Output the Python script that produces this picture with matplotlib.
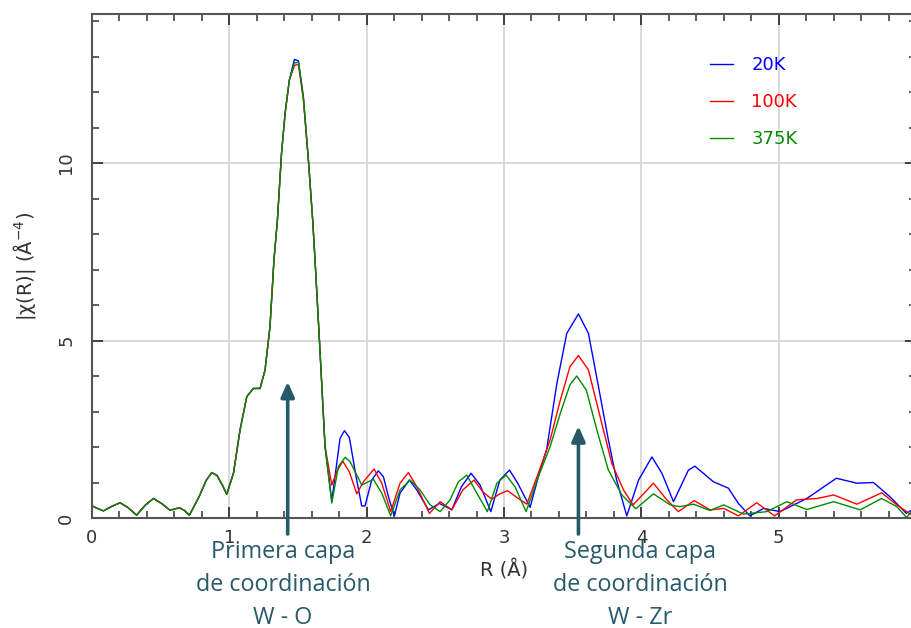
import numpy as np
import matplotlib
matplotlib.use('Agg')
import matplotlib.pyplot as plt
from matplotlib.ticker import MultipleLocator

# Shared part of the three curves (first shell, all temperatures overlap)
r_common = [0.0, 0.04, 0.083, 0.14, 0.204, 0.26, 0.325, 0.385, 0.447, 0.51,
            0.568, 0.6, 0.636, 0.67, 0.709, 0.78, 0.83, 0.872, 0.91, 0.95,
            0.981, 1.03, 1.078, 1.127, 1.175, 1.224, 1.26, 1.296, 1.325, 1.35,
            1.38, 1.406, 1.437]
chi_common = [0.34, 0.27, 0.2, 0.32, 0.43, 0.3, 0.08, 0.35, 0.55, 0.4,
              0.22, 0.25, 0.29, 0.22, 0.08, 0.6, 1.05, 1.28, 1.2, 0.92,
              0.67, 1.26, 2.48, 3.42, 3.65, 3.65, 4.17, 5.39, 7.27, 8.39,
              10.27, 11.4, 12.34]

# 20K
r_20 = [1.474, 1.503, 1.539, 1.576, 1.607, 1.624, 1.656, 1.697, 1.746, 1.806,
        1.838, 1.874, 1.923, 1.964, 1.988, 2.037, 2.085, 2.122, 2.165, 2.202,
        2.243, 2.311, 2.365, 2.45, 2.53, 2.62, 2.69, 2.76, 2.826, 2.904,
        2.97, 3.04, 3.1, 3.19, 3.263, 3.31, 3.385, 3.457, 3.542, 3.615,
        3.688, 3.76, 3.82, 3.894, 3.98, 4.077, 4.15, 4.234, 4.343, 4.39,
        4.525, 4.634, 4.707, 4.79, 4.89, 5.01, 5.205, 5.42, 5.57, 5.69,
        5.81, 5.93, 6.0]
chi_20 = [12.92, 12.88, 11.87, 10.08, 8.39, 7.27, 5.01, 2.01, 0.48, 2.24,
          2.46, 2.27, 1.16, 0.34, 0.34, 1.07, 1.33, 1.16, 0.51, 0.06,
          0.7, 1.07, 0.79, 0.23, 0.41, 0.23, 0.88, 1.26, 0.93, 0.18,
          1.07, 1.35, 0.98, 0.3, 1.35, 1.92, 3.79, 5.2, 5.75, 5.2,
          3.7, 2.2, 1.07, 0.06, 1.07, 1.72, 1.26, 0.46, 1.35, 1.46,
          1.02, 0.84, 0.41, 0.06, 0.27, 0.18, 0.55, 1.12, 0.98, 1.0,
          0.6, 0.13, 0.3]

# 100K
r_100 = [1.474, 1.503, 1.539, 1.576, 1.607, 1.624, 1.656, 1.697, 1.746, 1.782,
         1.826, 1.874, 1.928, 1.976, 2.054, 2.11, 2.175, 2.243, 2.304, 2.365,
         2.457, 2.535, 2.62, 2.7, 2.782, 2.845, 2.911, 2.97, 3.025, 3.093,
         3.166, 3.25, 3.336, 3.41, 3.48, 3.542, 3.615, 3.7, 3.785, 3.87,
         3.94, 4.088, 4.186, 4.27, 4.385, 4.5, 4.6, 4.707, 4.84, 4.97,
         5.13, 5.28, 5.4, 5.57, 5.75, 5.86, 5.97, 6.0]
chi_100 = [12.75, 12.78, 11.8, 10.05, 8.39, 7.27, 5.01, 2.01, 0.93, 1.3,
           1.6, 1.3, 0.68, 1.02, 1.38, 0.98, 0.18, 0.98, 1.28, 0.88,
           0.13, 0.46, 0.23, 0.79, 1.07, 0.74, 0.53, 0.68, 0.77, 0.58,
           0.39, 1.26, 2.2, 3.32, 4.26, 4.58, 4.17, 2.85, 1.54, 0.79,
           0.37, 0.98, 0.51, 0.18, 0.49, 0.23, 0.27, 0.06, 0.43, 0.06,
           0.51, 0.55, 0.65, 0.39, 0.71, 0.37, 0.08, 0.1]

# 375K
r_375 = [1.474, 1.503, 1.539, 1.576, 1.607, 1.624, 1.656, 1.697, 1.746, 1.794,
         1.843, 1.879, 1.964, 2.049, 2.11, 2.175, 2.243, 2.316, 2.389, 2.462,
         2.535, 2.607, 2.668, 2.729, 2.802, 2.879, 2.948, 3.015, 3.08, 3.161,
         3.25, 3.336, 3.41, 3.48, 3.53, 3.6, 3.676, 3.76, 3.858, 3.96,
         4.088, 4.21, 4.28, 4.38, 4.5, 4.6, 4.743, 4.914, 5.06, 5.205,
         5.4, 5.594, 5.75, 5.86, 5.93, 6.0]
chi_375 = [12.82, 12.84, 11.85, 10.08, 8.39, 7.27, 5.01, 2.01, 0.42, 1.45,
           1.71, 1.59, 0.93, 1.09, 0.7, 0.06, 0.79, 1.07, 0.79, 0.37,
           0.18, 0.51, 1.02, 1.21, 0.7, 0.18, 0.98, 1.21, 0.88, 0.18,
           1.16, 2.01, 2.95, 3.75, 4.0, 3.6, 2.48, 1.35, 0.65, 0.26,
           0.68, 0.37, 0.32, 0.39, 0.21, 0.37, 0.11, 0.18, 0.46, 0.24,
           0.46, 0.23, 0.55, 0.32, 0.02, 0.3]

labels = ['20K', '100K', '375K']
colors = ['#0000ff', '#ff0000', '#008c00']

teal = '#275a68'
note_o = 'Primera capa\nde coordinación\nW - O'
note_zr = 'Segunda capa\nde coordinación\nW - Zr'

fig = plt.figure(figsize=(9.12, 6.28), dpi=100)
ax = fig.add_axes([92 / 912, 1 - 518 / 628, (916 - 92) / 912, (518 - 14) / 628])

series = [(r_20, chi_20), (r_100, chi_100), (r_375, chi_375)]
for (r, c), lab, col in zip(series, labels, colors):
    ax.plot(r_common + r, chi_common + c, color=col, lw=1.0, label=lab)

ax.set_xlim(0, 6)
ax.set_ylim(0, 14.2)
ax.xaxis.set_major_locator(MultipleLocator(1))
ax.xaxis.set_minor_locator(MultipleLocator(0.2))
ax.yaxis.set_major_locator(MultipleLocator(5))
ax.yaxis.set_minor_locator(MultipleLocator(1))
ax.grid(True, which='major', color='#d4d4d4', lw=1.2)
ax.tick_params(which='both', direction='in', top=True, right=True, colors='#333333', labelsize=13)
ax.tick_params(which='major', length=8, width=1.3)
ax.tick_params(which='minor', length=5, width=1.1)
ax.tick_params(axis='x', pad=8)
ax.tick_params(axis='y', pad=12)
for lab in ax.get_yticklabels():
    lab.set_rotation(90)
    lab.set_va('center')
for sp in ax.spines.values():
    sp.set_color('#555555')
    sp.set_linewidth(1.5)

ax.set_xlabel('R (Å)', fontsize=14, labelpad=9, color='#333333')
ax.set_ylabel('|χ(R)| (Å$^{-4}$)', fontsize=14, labelpad=14, color='#333333')

leg = ax.legend(loc='upper left', bbox_to_anchor=(0.73, 0.948), frameon=False, fontsize=13,
                handlelength=1.3, handletextpad=1.0, labelspacing=1.05, labelcolor='linecolor')

# arrows and notes
arrow_style = dict(arrowstyle='-|>,head_width=0.2,head_length=0.45', lw=2.6,
                   color=teal, mutation_scale=20, shrinkA=0, shrinkB=0)
ax.annotate('', xy=(1.425, 3.84), xytext=(1.425, -0.45), annotation_clip=False,
            arrowprops=arrow_style)
ax.annotate('', xy=(3.542, 2.59), xytext=(3.542, -0.45), annotation_clip=False,
            arrowprops=arrow_style)
ax.text(1.39, -1.9, note_o, ha='center', va='center', fontsize=16.8, color=teal,
        family='Open Sans', linespacing=1.5, clip_on=False)
ax.text(3.99, -1.9, note_zr, ha='center', va='center', fontsize=16.8, color=teal,
        family='Open Sans', linespacing=1.5, clip_on=False)

fig.savefig('out.png', dpi=100)
